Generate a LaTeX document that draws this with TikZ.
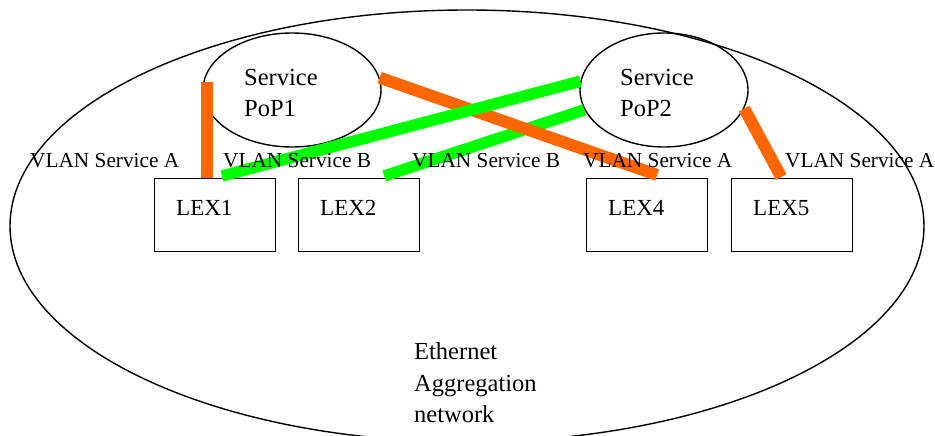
\documentclass[tikz,border=0pt]{standalone}
\usepackage{fontspec}
\setmainfont{Liberation Serif}
\usetikzlibrary{shapes.geometric,calc}
\definecolor{vlanA}{HTML}{FF6600}
\definecolor{vlanB}{HTML}{00FF00}
\tikzset{
  outline/.style={draw=black, line width=1.4pt, ellipse, inner sep=0pt},
  lexbox/.style={draw=black, line width=1.4pt, minimum width=121pt, minimum height=73pt, inner sep=0pt},
  lextext/.style={anchor=base west, inner sep=0pt, font=\fontsize{23}{27}\selectfont},
  poptext/.style={anchor=base west, inner sep=0pt, font=\fontsize{24.5}{28}\selectfont},
  vlanlabel/.style={anchor=base west, inner sep=0pt, font=\fontsize{21.3}{24}\selectfont},
  nettext/.style={anchor=base west, inner sep=0pt, font=\fontsize{24.5}{28}\selectfont},
  linkA/.style={draw=vlanA, line width=12pt},
  linkB/.style={draw=vlanB, line width=11.5pt},
}
\begin{document}
\begin{tikzpicture}[x=1pt,y=-1pt]
\useasboundingbox (0,0) rectangle (935,436);
\clip (0,0) rectangle (935,436);
% aggregation network
\node[outline, minimum width=914pt, minimum height=432pt] (agg) at (467,226) {};
% PoPs
\node[outline, minimum width=178pt, minimum height=114pt] (pop1) at (292,90) {};
\node[outline, minimum width=168pt, minimum height=114pt] (pop2) at (664,90) {};
\node[poptext] (pop1a) at (244,85) {Service};
\node[poptext] (pop1b) at (244,117) {PoP1};
\node[poptext] (pop2a) at (620,85) {Service};
\node[poptext] (pop2b) at (620,117) {PoP2};
% LEX boxes
\node[lexbox, anchor=north west] (lex1) at (154,178) {};
\node[lexbox, anchor=north west] (lex2) at (298,178) {};
\node[lexbox, anchor=north west] (lex4) at (586,178) {};
\node[lexbox, anchor=north west] (lex5) at (731,178) {};
\node[lextext] (lex1t) at (176,215) {LEX1};
\node[lextext] (lex2t) at (320,215) {LEX2};
\node[lextext] (lex4t) at (608,215) {LEX4};
\node[lextext] (lex5t) at (753,215) {LEX5};
% links
\coordinate (a1top) at (207,82);
\draw[linkA] ($(lex1.north west)+(53,0)$) -- (a1top);
\draw[linkB] ($(lex2.north)+(25,-2)$) -- (pop2.194);
\draw[linkA] (pop1.8) -- ($(lex4.north)+(10,-3)$);
\draw[linkB] ($(lex1.north west)+(68,-2)$) -- (pop2.174);
\draw[linkA] (pop2.-13) -- ($(lex5.north)+(-11,-1)$);
% labels
\node[vlanlabel] (l1) at (30,167) {VLAN Service A};
\node[vlanlabel] (l2) at (223,167) {VLAN Service B};
\node[vlanlabel] (l3) at (412,167) {VLAN Service B};
\node[vlanlabel] (l4) at (583,167) {VLAN Service A};
\node[vlanlabel] (l5) at (785,167) {VLAN Service A};
% network text
\node[nettext] (n1) at (414,359) {Ethernet};
\node[nettext] (n2) at (414,391) {Aggregation};
\node[nettext] (n3) at (414,422) {network};
\end{tikzpicture}
\end{document}
